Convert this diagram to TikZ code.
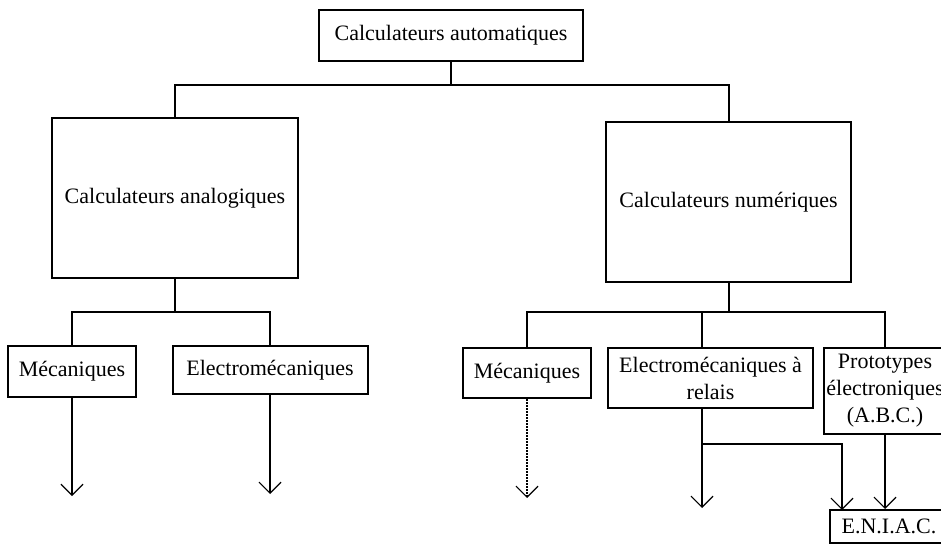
\documentclass[tikz,border=0pt]{standalone}
\usepackage{fontspec}
\setmainfont{Liberation Serif}
\usetikzlibrary{arrows.meta}
\begin{document}
\begin{tikzpicture}[x=1pt,y=-1pt,
  line width=2pt,
  box/.style={draw, rectangle, inner sep=0pt, align=center,
    font=\fontsize{22}{27}\selectfont},
  link/.style={line join=miter},
  tipline/.style={-{Straight Barb[length=11pt,width=22pt,line width=1.2pt]}},
  dotline/.style={tipline, dash pattern=on 1.5pt off 1.5pt, line width=1.5pt}]
\useasboundingbox (0,0) rectangle (941,545);
\clip (0,0) rectangle (941,545);

% boxes
\node[box, minimum width=264pt, minimum height=51pt] (top) at (451,35.5) {Calculateurs automatiques};
\node[box, minimum width=246pt, minimum height=160pt] (ana) at (175,198) {Calculateurs analogiques};
\node[box, minimum width=245pt, minimum height=160pt] (num) at (728.5,202) {Calculateurs numériques};
\node[box, minimum width=128pt, minimum height=51pt] (mecA) at (72,371.5) {Mécaniques};
\node[box, minimum width=195pt, minimum height=48pt] (elecA) at (270,370) {Electromécaniques};
\node[box, minimum width=128pt, minimum height=50pt] (mecN) at (527,373) {Mécaniques};
\node[box, minimum width=205pt, minimum height=60pt] (relais) at (710.5,378) {Electromécaniques à\\relais};
\node[box, minimum width=122pt, minimum height=86pt] (proto) at (885,391) {Prototypes\\électroniques\\(A.B.C.)};
\node[box, minimum width=118pt, minimum height=33pt] (eniac) at (889,526.5) {E.N.I.A.C.};

% junction points and free arrow ends
\coordinate (j1) at (451,85);
\coordinate (j2) at (175,312);
\coordinate (j3) at (728.5,312);
\coordinate (rtop) at (702,348);
\coordinate (rbot) at (702,408);
\coordinate (rbus) at (702,312);
\coordinate (rsplit) at (702,444);
\coordinate (endA1) at (72,496);
\coordinate (endA2) at (270,494);
\coordinate (endN1) at (527,498);
\coordinate (endN2) at (702,508);
\coordinate (eIn1) at (842,510);

% first level
\draw[link] (top.south) -- (j1);
\draw[link] (ana.north) |- (j1) -| (num.north);

% analog branch
\draw[link] (ana.south) -- (j2);
\draw[link] (mecA.north) |- (j2) -| (elecA.north);
\draw[tipline] (mecA.south) -- (endA1);
\draw[tipline] (elecA.south) -- (endA2);

% digital branch
\draw[link] (num.south) -- (j3);
\draw[link] (mecN.north) |- (j3) -| (proto.north);
\draw[link] (rbus) -- (rtop);
\draw[dotline] (mecN.south) -- (endN1);
\draw[tipline] (rbot) -- (endN2);
\draw[tipline] (rsplit) -| (eIn1);
\draw[tipline] (proto.south) -- (proto.south |- eniac.north);
\end{tikzpicture}
\end{document}
